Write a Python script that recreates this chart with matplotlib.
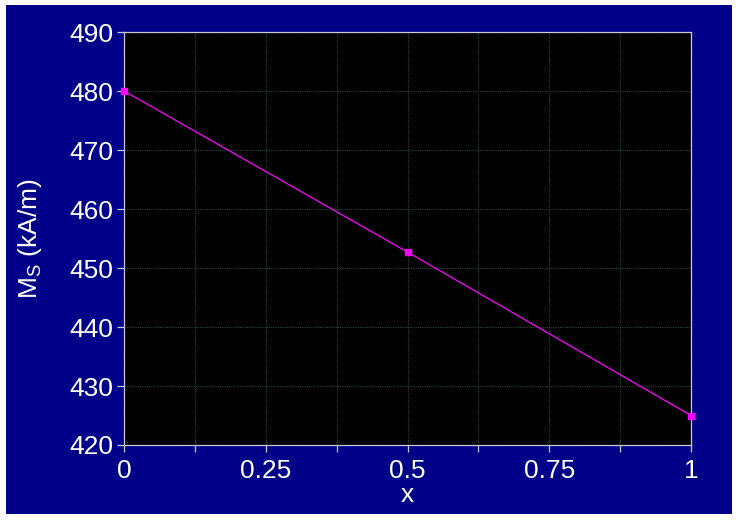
import matplotlib.pyplot as plt
from matplotlib.patches import Rectangle

x_vals = [0, 0.5, 1]
ms_vals = [480.0, 452.7, 425.0]

x_major = [0, 0.25, 0.5, 0.75, 1]
x_labels = ['0', '0.25', '0.5', '0.75', '1']
x_minor = [0.125, 0.375, 0.625, 0.875]
y_ticks = list(range(420, 491, 10))

plt.rcParams['font.family'] = ['Liberation Sans', 'DejaVu Sans']

navy = '#000088'
fig = plt.figure(figsize=(7.39, 5.23), dpi=100, facecolor='white')
fig.patches.append(Rectangle((6 / 739, 1 - 514 / 523), 726 / 739, 509 / 523,
                             transform=fig.transFigure, facecolor=navy,
                             edgecolor='none', zorder=-10))

ax = fig.add_axes([124 / 739, 1 - 445 / 523, 567 / 739, 413 / 523])
ax.set_facecolor('black')

ax.plot(x_vals, ms_vals, color='#ff00ff', lw=0.9, marker='s', ms=4.5,
        mec='#ff00ff', mfc='#ff00ff', clip_on=False, zorder=5)

ax.set_xlim(0, 1)
ax.set_ylim(420, 490)
ax.set_xticks(x_major)
ax.set_xticklabels(x_labels)
ax.set_xticks(x_minor, minor=True)
ax.set_yticks(y_ticks)

grid_col = '#24463c'
ax.grid(True, which='both', color=grid_col, lw=0.8, ls=(0, (1, 1)))
ax.grid(False, which='minor', axis='y')

for s in ax.spines.values():
    s.set_color('#c8c8d8')
    s.set_linewidth(0.9)

ax.tick_params(which='both', colors='#c8c8d8', length=5, width=0.9,
               labelcolor='white', labelsize=19, direction='out')
ax.tick_params(axis='x', pad=5)
ax.tick_params(axis='y', pad=3)

ax.set_xlabel('x', color='white', fontsize=19, labelpad=0)
ax.set_ylabel(r'M$_\mathregular{S}$ (kA/m)', color='white', fontsize=19,
              labelpad=18)

fig.savefig('out.png', dpi=100, facecolor='white')
